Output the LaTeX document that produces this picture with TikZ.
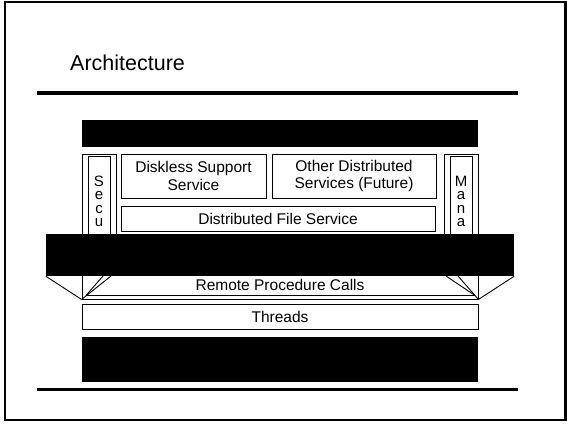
\documentclass[tikz,border=0pt]{standalone}
\usepackage{fontspec}
\setmainfont{Liberation Sans}
\begin{document}
\begin{tikzpicture}[x=1pt,y=-1pt,
  box/.style={draw, line width=0.9pt, inner sep=0pt, align=center,
              font=\fontsize{15.5}{17.5}\selectfont},
  plainbox/.style={draw, line width=0.9pt, inner sep=0pt},
  redact/.style={fill=black, draw=none, inner sep=0pt},
  rulebar/.style={line width=3.5pt},
  edge/.style={line width=0.9pt},
  letters/.style={align=center, inner sep=0pt,
                  font=\fontsize{15}{13.5}\selectfont},
  lbl/.style={inner sep=0pt, font=\fontsize{15.5}{17.5}\selectfont}]
\useasboundingbox (0,0) rectangle (567,424);

% slide frame
\draw[line width=2.3pt] (5.3,2.2) rectangle (565.5,420);

% title and rules
\node[anchor=base west, inner sep=0pt, font=\fontsize{21.5}{24}\selectfont]
  (title) at (70,70) {Architecture};
\coordinate (rtl) at (37,93);   \coordinate (rtr) at (518,93);
\coordinate (rbl) at (37,389.5); \coordinate (rbr) at (518,389.5);
\draw[rulebar] (rtl) -- (rtr);
\draw[rulebar] (rbl) -- (rbr);

% side columns
\node[plainbox, minimum width=34pt, minimum height=106pt] (secuout) at (99,207) {};
\node[plainbox, minimum width=22pt, minimum height=104pt] (secuin) at (99,208) {};
\node[letters, anchor=north] (secu) at (99,175.5) {S\\e\\c\\u};
\node[plainbox, minimum width=34pt, minimum height=106pt] (manaout) at (461,207) {};
\node[plainbox, minimum width=22pt, minimum height=104pt] (manain) at (461,208) {};
\node[letters, anchor=north] (mana) at (461,175.5) {M\\a\\n\\a};

% service boxes
\node[box, minimum width=145pt, minimum height=44pt] (disk) at (193.5,176)
  {Diskless Support\\Service};
\node[box, minimum width=164pt, minimum height=44pt] (other) at (354,176)
  {Other Distributed\\Services (Future)};
\node[box, minimum width=314pt, minimum height=25pt] (dfs) at (278,218.5)
  {Distributed File Service};

% remote procedure calls layer
\node[plainbox, minimum width=396pt, minimum height=40pt] (rpc) at (280,279) {};
\coordinate (rpcil) at (86,295.5);
\coordinate (rpcir) at (475,295.5);
\draw[edge] (rpcil) -- (rpcir);
\node[lbl] (rpctext) at (280,284.5) {Remote Procedure Calls};

% threads layer
\node[box, minimum width=396pt, minimum height=25pt] (threads) at (280,316.5) {Threads};

% covering bars
\node[redact, minimum width=396pt, minimum height=27pt] (bartop) at (280,133.5) {};
\node[redact, minimum width=468pt, minimum height=42pt] (barmid) at (280,255) {};
\node[redact, minimum width=396pt, minimum height=45pt] (barbot) at (280,359.5) {};

% perspective edges below the middle bar
\coordinate (dl1) at (103,276); \coordinate (dl2) at (111,276);
\coordinate (dr1) at (446,276); \coordinate (dr2) at (458,276);
\draw[edge] (barmid.south west) -- (rpc.south west);
\draw[edge] (barmid.south east) -- (rpc.south east);
\draw[edge] (dl1) -- (rpcil);
\draw[edge] (dl2) -- (rpc.south west);
\draw[edge] (dr1) -- (rpcir);
\draw[edge] (dr2) -- (rpc.south east);
\end{tikzpicture}
\end{document}
